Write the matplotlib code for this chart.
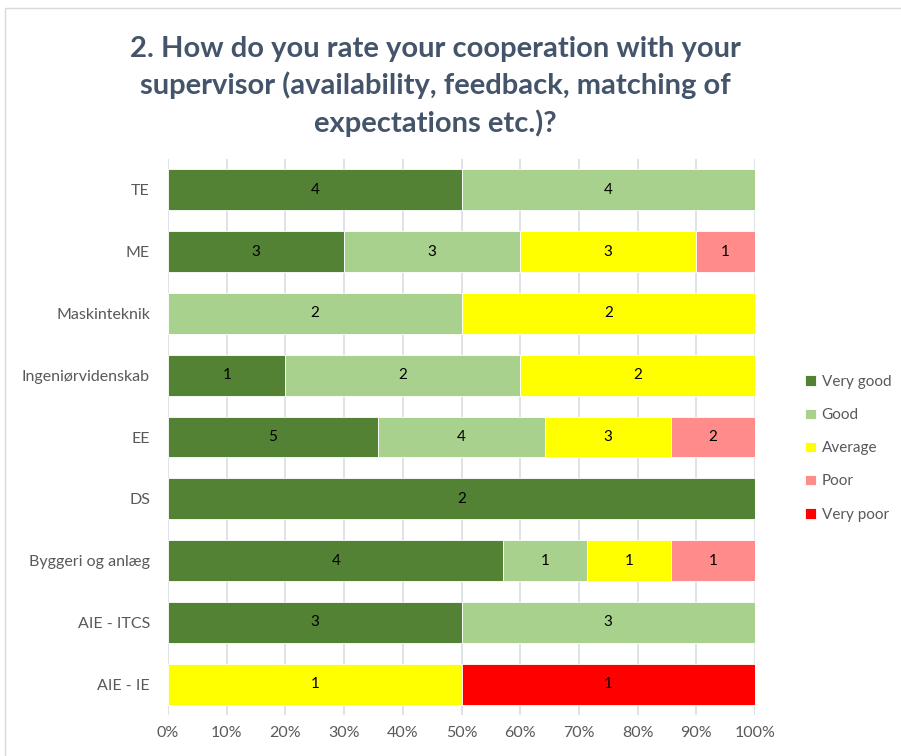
import numpy as np
import matplotlib.pyplot as plt
from matplotlib.patches import Rectangle

# categories from bottom to top
programmes = ["AIE - IE", "AIE - ITCS", "Byggeri og anlæg", "DS", "EE",
              "Ingeniørvidenskab", "Maskinteknik", "ME", "TE"]
ratings = ["Very good", "Good", "Average", "Poor", "Very poor"]
very_good = [0, 3, 4, 2, 5, 1, 0, 3, 4]
good = [0, 3, 1, 0, 4, 2, 2, 3, 4]
average = [1, 0, 1, 0, 3, 2, 2, 3, 0]
poor = [0, 0, 1, 0, 2, 0, 0, 1, 0]
very_poor = [1, 0, 0, 0, 0, 0, 0, 0, 0]
colors = ["#548235", "#A9D18E", "#FFFF00", "#FF8B8B", "#FF0000"]

plt.rcParams['font.family'] = ['Lato', 'DejaVu Sans']
txt = '#44546A'

counts = np.array([very_good, good, average, poor, very_poor], dtype=float)
totals = counts.sum(axis=0)
shares = counts / totals

fig = plt.figure(figsize=(9.01, 7.56), dpi=100)
ax = fig.add_axes([0.1865, 0.0542, 0.6515, 0.7355])

y = np.arange(len(programmes))
left = np.zeros(len(programmes))
for i, name in enumerate(ratings):
    ax.barh(y, shares[i], left=left, height=0.66, color=colors[i],
            edgecolor='white', linewidth=0.6, label=name, zorder=3)
    for j in range(len(programmes)):
        if counts[i, j] > 0:
            ax.text(left[j] + shares[i, j] / 2, y[j], str(int(counts[i, j])),
                    ha='center', va='center', fontsize=11, color='black', zorder=4)
    left += shares[i]

ax.set_xlim(0, 1)
ax.set_ylim(-0.5, len(programmes) - 0.5)
ax.set_xticks(np.arange(0, 1.01, 0.1))
ax.set_xticklabels([f"{int(round(v * 100))}%" for v in np.arange(0, 1.01, 0.1)])
ax.set_yticks(y)
ax.set_yticklabels(programmes)
ax.tick_params(axis='both', length=0, labelsize=11.5, colors='#595959', pad=8)
ax.tick_params(axis='y', pad=13)
ax.grid(axis='x', color='#D9DDE3', linewidth=1.2, zorder=0)
for s in ax.spines.values():
    s.set_visible(False)

fig.suptitle("2. How do you rate your cooperation with your\nsupervisor (availability, feedback, matching of\nexpectations etc.)?",
             x=0.483, y=0.953, fontsize=21, fontweight='bold', color=txt,
             linespacing=1.45)

ax.legend(loc='center left', bbox_to_anchor=(0.878, 0.407), bbox_transform=fig.transFigure,
          frameon=False, fontsize=11, labelcolor='#595959', handlelength=0.7,
          handleheight=0.7, handletextpad=0.4, labelspacing=1.25)

fig.patches.append(Rectangle((0.006, -0.01), 0.995, 1.0, transform=fig.transFigure,
                             fill=False, edgecolor='#D9D9D9', linewidth=1))

fig.savefig("out.png", dpi=100)
